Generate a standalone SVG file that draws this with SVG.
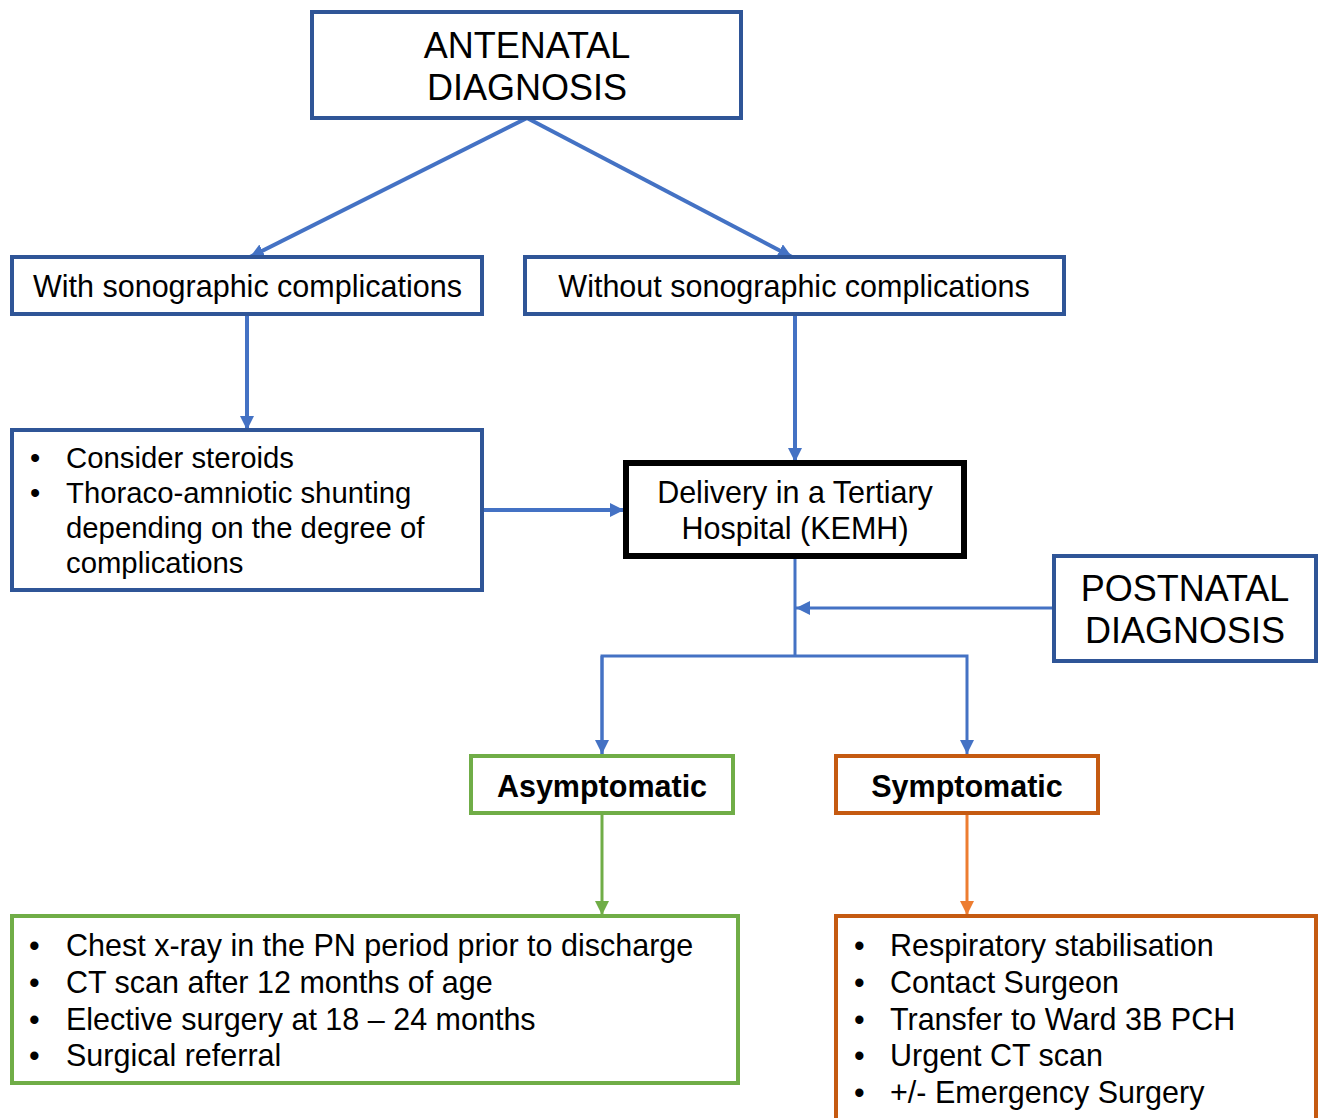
<svg xmlns="http://www.w3.org/2000/svg" width="1322" height="1118" viewBox="0 0 1322 1118">
<style>
text{font-family:"Liberation Sans",Arial,sans-serif;fill:#000}
.box{fill:#fff;stroke:#2F5597;stroke-width:4}
.big{font-size:36px;text-anchor:middle}
.md{font-size:30.5px}
.sm{font-size:29.3px}
.c{text-anchor:middle}
.b{font-weight:bold}
.ln{fill:none;stroke:#4472C4;stroke-width:4}
.ln3{fill:none;stroke:#4472C4;stroke-width:3}
</style>
<defs>
<marker id="ab" viewBox="0 0 10 10" refX="10" refY="5" markerWidth="14" markerHeight="14" markerUnits="userSpaceOnUse" orient="auto"><path d="M0,0 L10,5 L0,10 z" fill="#4472C4"/></marker>
<marker id="ag" viewBox="0 0 10 10" refX="10" refY="5" markerWidth="14" markerHeight="14" markerUnits="userSpaceOnUse" orient="auto"><path d="M0,0 L10,5 L0,10 z" fill="#70AD47"/></marker>
<marker id="ao" viewBox="0 0 10 10" refX="10" refY="5" markerWidth="14" markerHeight="14" markerUnits="userSpaceOnUse" orient="auto"><path d="M0,0 L10,5 L0,10 z" fill="#ED7D31"/></marker>
</defs>
<rect width="1322" height="1118" fill="#fff"/>
<g id="connectors">
<line class="ln" x1="527" y1="118" x2="250" y2="257" marker-end="url(#ab)"/>
<line class="ln" x1="527" y1="118" x2="792" y2="257" marker-end="url(#ab)"/>
<line class="ln" x1="247" y1="314" x2="247" y2="430" marker-end="url(#ab)"/>
<line class="ln" x1="795" y1="314" x2="795" y2="462" marker-end="url(#ab)"/>
<line class="ln" x1="482" y1="510" x2="624" y2="510" marker-end="url(#ab)"/>
<line class="ln3" x1="795" y1="556" x2="795" y2="656"/>
<line class="ln3" x1="1054" y1="608" x2="796" y2="608" marker-end="url(#ab)"/>
<polyline class="ln3" points="602,754 602,656 967,656 967,754" marker-end="url(#ab)"/>
<line class="ln3" x1="602" y1="656" x2="602" y2="754" marker-end="url(#ab)"/>
<line x1="602" y1="813" x2="602" y2="915" stroke="#70AD47" stroke-width="3" marker-end="url(#ag)"/>
<line x1="967" y1="813" x2="967" y2="915" stroke="#ED7D31" stroke-width="3" marker-end="url(#ao)"/>
</g>
<g id="antenatal">
<rect class="box" x="312" y="12" width="429" height="106"/>
<text class="big" x="527" y="58">ANTENATAL</text>
<text class="big" x="527" y="100">DIAGNOSIS</text>
</g>
<g id="with">
<rect class="box" x="12" y="257" width="470" height="57"/>
<text class="md" x="33" y="297">With sonographic complications</text>
</g>
<g id="without">
<rect class="box" x="525" y="257" width="539" height="57"/>
<text class="md c" x="794" y="297">Without sonographic complications</text>
</g>
<g id="steroids">
<rect class="box" x="12" y="430" width="470" height="160"/>
<text class="sm"><tspan x="30" y="468">•</tspan><tspan x="66" y="468">Consider steroids</tspan><tspan x="30" y="503">•</tspan><tspan x="66" y="503">Thoraco-amniotic shunting</tspan><tspan x="66" y="538">depending on the degree of</tspan><tspan x="66" y="573">complications</tspan></text>
</g>
<g id="delivery">
<rect x="626" y="463" width="338" height="93" fill="#fff" stroke="#000" stroke-width="6"/>
<text class="md c" x="795" y="503">Delivery in a Tertiary</text>
<text class="md c" x="795" y="539">Hospital (KEMH)</text>
</g>
<g id="postnatal">
<rect class="box" x="1054" y="556" width="262" height="105"/>
<text class="big" x="1185" y="601">POSTNATAL</text>
<text class="big" x="1185" y="643">DIAGNOSIS</text>
</g>
<g id="asymptomatic">
<rect x="471" y="756" width="262" height="57" fill="#fff" stroke="#70AD47" stroke-width="4"/>
<text class="md c b" x="602" y="797">Asymptomatic</text>
</g>
<g id="symptomatic">
<rect x="836" y="756" width="262" height="57" fill="#fff" stroke="#C55A11" stroke-width="4"/>
<text class="md c b" x="967" y="797">Symptomatic</text>
</g>
<g id="asym-actions">
<rect x="12" y="916" width="726" height="167" fill="#fff" stroke="#70AD47" stroke-width="4"/>
<text class="md"><tspan x="29" y="956">•</tspan><tspan x="66" y="956">Chest x-ray in the PN period prior to discharge</tspan><tspan x="29" y="993">•</tspan><tspan x="66" y="993">CT scan after 12 months of age</tspan><tspan x="29" y="1030">•</tspan><tspan x="66" y="1030">Elective surgery at 18 – 24 months</tspan><tspan x="29" y="1066">•</tspan><tspan x="66" y="1066">Surgical referral</tspan></text>
</g>
<g id="sym-actions">
<rect x="836" y="916" width="480" height="220" fill="#fff" stroke="#C55A11" stroke-width="4"/>
<text class="md"><tspan x="854" y="956">•</tspan><tspan x="890" y="956">Respiratory stabilisation</tspan><tspan x="854" y="993">•</tspan><tspan x="890" y="993">Contact Surgeon</tspan><tspan x="854" y="1030">•</tspan><tspan x="890" y="1030">Transfer to Ward 3B PCH</tspan><tspan x="854" y="1066">•</tspan><tspan x="890" y="1066">Urgent CT scan</tspan><tspan x="854" y="1103">•</tspan><tspan x="890" y="1103">+/- Emergency Surgery</tspan></text>
</g>
</svg>
